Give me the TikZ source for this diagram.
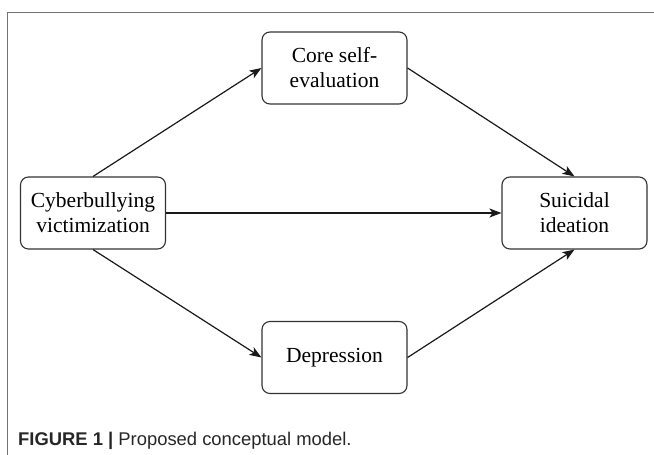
\documentclass[tikz,border=0pt]{standalone}
\usepackage{fontspec}
\usepackage{tikz}
\usetikzlibrary{arrows.meta}
\setmainfont{Liberation Serif}
\newfontfamily\capfont{Liberation Sans}

\begin{document}
\begin{tikzpicture}[x=1pt,y=1pt,
		box/.style={draw=black!80,line width=1.1pt,rounded corners=8pt,minimum width=145pt,minimum height=72pt,align=center,inner sep=0pt,font=\fontsize{21.5}{25}\selectfont},
		arr/.style={draw=black!90,line width=1.2pt,-{Stealth[length=12pt,width=9pt,inset=3pt]}}]
		\useasboundingbox (0,0) rectangle (654,-455);
		% frame
		\draw [black!55,line width=1pt] (654,-12) -- (7,-12) -- (7,-455);
		% boxes
		\node [box] (cyb) at (93,-213) {Cyberbullying\\victimization};
		\node [box] (core) at (334.5,-68) {Core self-\\evaluation};
		\node [box] (dep) at (334.5,-357.5) {Depression};
		\node [box] (sui) at (574.5,-213) {Suicidal\\ideation};
		% paths
		\draw [arr] (cyb.north) -- (core.west);
		\draw [arr] (core.east) -- (sui.north);
		\draw [arr] (cyb.east) -- (sui.west);
		\draw [arr] (cyb.south) -- (dep.west);
		\draw [arr] (dep.east) -- (sui.south);
		% caption
		\node [anchor=base west,inner sep=0pt,text=black!85,font=\capfont\fontsize{18.4}{20}\selectfont] (cap) at (18,-445) {\textbf{FIGURE 1 |} Proposed conceptual model.};
\end{tikzpicture}
\end{document}
